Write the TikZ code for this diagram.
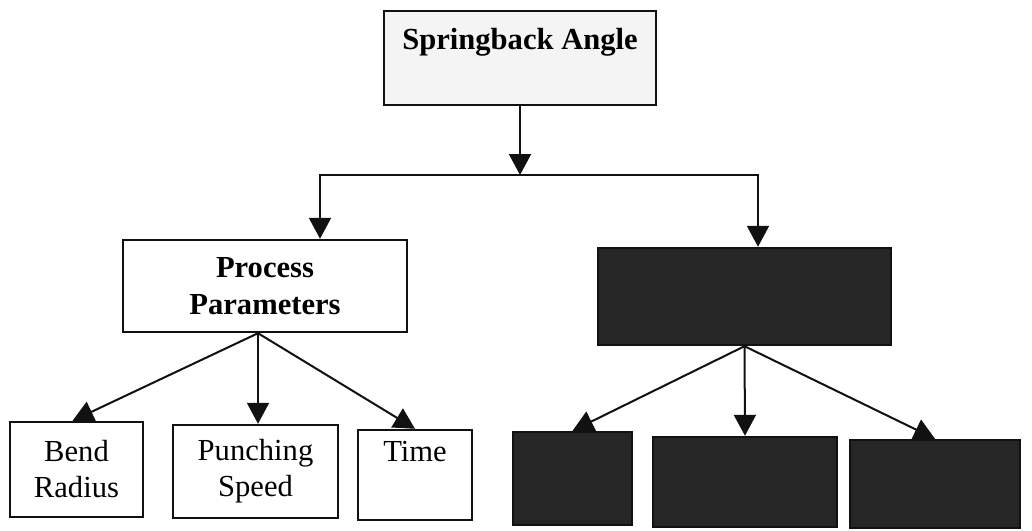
\documentclass[tikz,border=0pt]{standalone}
\usepackage{fontspec}
\setmainfont{Liberation Serif}
\usetikzlibrary{arrows.meta,calc}
\definecolor{ink}{HTML}{111111}
\definecolor{scan}{HTML}{F4F4F4}

\begin{document}
\begin{tikzpicture}[x=0.5pt,y=-0.5pt,
    box/.style={draw=ink,line width=1.2pt,inner sep=0pt,align=center,
      font=\fontsize{15.3}{18}\selectfont},
    boldbox/.style={box,font=\fontsize{15.3}{18.5}\selectfont\bfseries},
    masked/.style={box,fill=black!85},
    conn/.style={draw=ink,line width=1pt,-{Triangle[length=10.5pt,width=11pt]}}]
  \useasboundingbox (0,0) rectangle (1032,530);
  % top level
  \node[boldbox,fill=scan,minimum width=136pt,text height=19pt,text depth=28pt,
    anchor=north] (angle) at (520,10) {Springback Angle};
  % second level
  \node[boldbox,fill=white,minimum width=142pt,minimum height=46pt] (proc) at (265,286) {Process\\Parameters};
  \node[masked,minimum width=146.5pt,minimum height=48.5pt] (hidden) at (744.5,296.5) {};
  \coordinate (pfan) at ([xshift=-3.5pt]proc.south);
  % leaves: name, x, y, width, height, text
  \foreach \lname/\lx/\ly/\lw/\lh/\ltext in {
      bend/76.5/469.5/66.5/47.5/{Bend\\Radius},
      punch/255.5/471.5/82.5/46.5/{Punching\\Speed},
      time/415/475/57/45/{Time\\\strut}} {
    \node[box,fill=white,minimum width=\lw pt,minimum height=\lh pt] (\lname) at (\lx,\ly) {\ltext};
  }
  \draw[conn] (pfan) -- ([xshift=-2pt]bend.north);
  \draw[conn] (pfan) -- (pfan |- punch.north);
  \draw[conn] (pfan) -- (time.north);
  \foreach \lname/\lx/\ly/\lw/\lh in {
      hone/572.5/478.5/59.5/46.5,
      htwo/745/482/92/45,
      hthree/935/484/85/44} {
    \node[masked,minimum width=\lw pt,minimum height=\lh pt] (\lname) at (\lx,\ly) {};
    \draw[conn] (hidden.south) -- (\lname.north);
  }
  % split
  \coordinate (split) at (520,175);
  \draw[conn] (angle.south) -- (split);
  \draw[conn] (split) -| ([xshift=27.5pt]proc.north);
  \draw[conn] (split) -| ([xshift=6.75pt]hidden.north);
\end{tikzpicture}
\end{document}
